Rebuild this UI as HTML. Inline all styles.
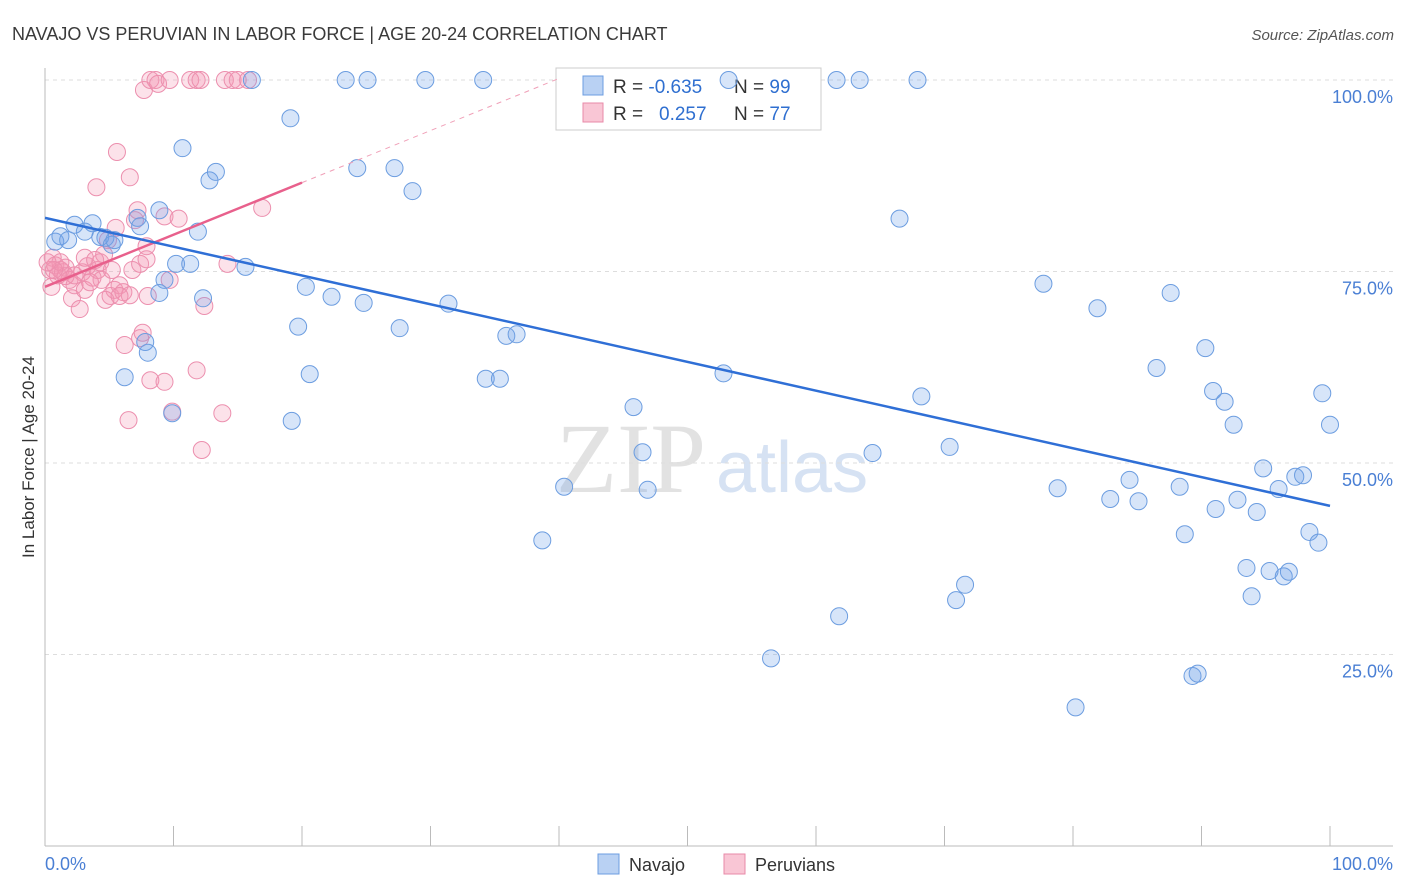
<!DOCTYPE html>
<html><head><meta charset="utf-8"><style>
body{margin:0;background:#fff;font-family:"Liberation Sans",sans-serif;}
svg{display:block}
</style></head><body>
<svg id="chart" width="1406" height="892">
<text x="12" y="40" font-size="18" fill="#3a3a3a">NAVAJO VS PERUVIAN IN LABOR FORCE | AGE 20-24 CORRELATION CHART</text>
<text x="1394" y="40" font-size="15" fill="#555" text-anchor="end" font-style="italic">Source: ZipAtlas.com</text>
<text transform="translate(34,457) rotate(-90)" font-size="17" fill="#333" text-anchor="middle">In Labor Force | Age 20-24</text>
<g>
<text x="556" y="492" font-size="100" font-family="Liberation Serif,serif" fill="#e2e2e2">ZIP</text>
<text x="716" y="492" font-size="72" fill="#d6e2f3">atlas</text>
</g>
<g id="grid"></g>
<g id="axes"></g>
<g>
<rect x="556" y="68" width="265" height="62" fill="#fff" stroke="#ccc"/>
<rect x="583" y="76" width="20" height="19" fill="#b9d1f3" stroke="#6c9de0"/>
<rect x="583" y="103" width="20" height="19" fill="#f9c6d5" stroke="#e88aa8"/>
<text x="613" y="93" font-size="19" fill="#333">R = <tspan fill="#2f6fd0">-0.635</tspan></text>
<text x="734" y="93" font-size="19" fill="#333">N = <tspan fill="#2f6fd0">99</tspan></text>
<text x="613" y="120" font-size="19" fill="#333">R = <tspan fill="#2f6fd0" x="659">0.257</tspan></text>
<text x="734" y="120" font-size="19" fill="#333">N = <tspan fill="#2f6fd0">77</tspan></text>
</g>
<g id="marks"></g>
<g>
<rect x="598" y="854" width="21" height="20" fill="#b9d1f3" stroke="#6c9de0"/>
<text x="629" y="871" font-size="18" fill="#333">Navajo</text>
<rect x="724" y="854" width="21" height="20" fill="#f9c6d5" stroke="#e88aa8"/>
<text x="755" y="871" font-size="18" fill="#333">Peruvians</text>
</g>
</svg>
<script>
const navajoX=[0.8,1.2,1.8,2.3,3.7,3.1,4.3,4.7,5.2,5.4,7.2,7.4,8.9,9.3,8.9,7.8,8.0,6.2,9.9,10.7,11.9,10.2,11.3,12.3,12.8,13.3,15.6,16.1,19.1,20.3,19.7,20.6,19.2,22.3,23.4,25.1,24.3,24.8,27.2,28.6,27.6,29.6,31.4,34.1,35.9,36.7,34.3,35.4,38.7,40.4,45.8,46.5,46.9,52.8,53.2,56.5,61.6,63.4,61.8,64.4,67.9,66.5,68.2,70.4,70.9,71.6,77.7,78.8,80.2,81.9,82.9,84.4,85.1,86.5,87.6,88.3,88.7,89.3,89.7,90.3,90.9,91.8,92.5,91.1,92.8,93.5,93.9,94.3,94.8,95.3,96.0,96.4,96.8,97.3,97.9,98.4,99.1,99.4,100];
const navajoY=[78.9,79.6,79.1,81.1,81.3,80.2,79.5,79.4,78.5,79.1,82.0,80.9,83.0,73.9,72.2,65.8,64.4,61.2,56.5,91.1,80.2,76.0,76.0,71.5,86.9,88.0,75.6,100,95.0,73.0,67.8,61.6,55.5,71.7,100,100,88.5,70.9,88.5,85.5,67.6,100,70.8,100,66.6,66.8,61.0,61.0,39.9,46.9,57.3,51.4,46.5,61.7,100,24.5,100,100,30.0,51.3,100,81.9,58.7,52.1,32.1,34.1,73.4,46.7,18.1,70.2,45.3,47.8,45.0,62.4,72.2,46.9,40.7,22.2,22.5,65.0,59.4,58.0,55.0,44.0,45.2,36.3,32.6,43.6,49.3,35.9,46.6,35.2,35.8,48.2,48.4,41.0,39.6,59.1,55.0];
const peruX=[0.6,0.4,0.8,1.0,0.5,1.2,1.4,1.6,1.9,2.1,2.3,2.7,2.9,3.1,3.3,3.7,4.0,4.1,4.3,4.4,4.6,4.9,5.1,5.4,5.6,5.5,5.8,6.1,6.2,6.5,6.6,6.6,6.8,7.0,7.2,7.4,7.4,7.6,7.9,7.9,7.7,8.2,8.6,8.8,8.2,8.0,9.3,9.7,9.3,9.9,9.7,10.4,11.3,11.8,12.1,11.8,12.2,12.4,13.8,14.0,14.2,14.6,15.0,15.8,16.9,3.1,3.9,4.7,5.2,5.8,1.2,1.6,3.5,2.3,0.7,0.2];
const peruY=[76.8,75.2,75.8,74.5,73.0,75.2,74.9,75.5,73.9,71.5,73.2,70.1,74.9,72.6,75.7,74.2,86.0,75.2,76.2,73.9,77.2,79.1,71.8,72.6,90.6,80.7,73.2,72.3,65.4,55.6,87.3,71.9,75.2,81.7,83.0,76.0,66.3,67.0,76.6,78.3,98.7,100,100,99.5,60.8,71.8,60.6,100,82.2,56.7,73.9,81.9,100,100,100,62.1,51.7,70.5,56.5,100,76.0,100,100,100,83.3,76.8,76.5,71.3,75.2,71.8,76.2,74.4,73.6,74.5,75.2,76.2];
const navajoTrend=[82.0,44.4];
const peruTrend=[73.0,86.6];
const yTicks=[25,50,75,100];
const yTickLabels=["25.0%","50.0%","75.0%","100.0%"];
const xTicks=[0,10,20,30,40,50,60,70,80,90,100];

const X0=45,X1=1330,Y0=846,Y100=80;
const sx=v=>X0+(X1-X0)*v/100;
const sy=v=>Y0-(Y0-Y100)*v/100;
const NS="http://www.w3.org/2000/svg";
function mk(tag,attrs,parent){const e=document.createElementNS(NS,tag);for(const k in attrs)e.setAttribute(k,attrs[k]);parent.appendChild(e);return e;}
const grid=document.getElementById('grid'),axes=document.getElementById('axes'),marks=document.getElementById('marks');

yTicks.forEach((t,i)=>{
  const l=mk('line',{x1:X0,x2:1393,y1:sy(t),y2:sy(t),stroke:'#ddd','stroke-dasharray':'4,4'},grid);
  
  
  const tx=mk('text',{x:1393,y:sy(t)+23,'font-size':18,fill:'#4a7fd4','text-anchor':'end'},axes);
  tx.textContent=yTickLabels[i];
  
  
});
const ya=mk('line',{x1:X0,x2:X0,y1:68,y2:Y0,stroke:'#bbb'},axes);


const xa=mk('line',{x1:X0,x2:1393,y1:Y0,y2:Y0,stroke:'#bbb'},axes);


xTicks.forEach(t=>{
  const l=mk('line',{x1:sx(t),x2:sx(t),y1:826,y2:Y0,stroke:'#bbb'},axes);
  
  
});
const xl0=mk('text',{x:45,y:870,'font-size':18,fill:'#4a7fd4'},axes);xl0.textContent='0.0%';


const xl1=mk('text',{x:1393,y:870,'font-size':18,fill:'#4a7fd4','text-anchor':'end'},axes);xl1.textContent='100.0%';



peruX.forEach((x,i)=>{
  const c=mk('circle',{cx:sx(x),cy:sy(peruY[i]),r:8.5,fill:'rgba(243,150,180,0.28)',stroke:'#ec8fae','stroke-width':1},marks);
  
  
});
navajoX.forEach((x,i)=>{
  const c=mk('circle',{cx:sx(x),cy:sy(navajoY[i]),r:8.5,fill:'rgba(110,160,235,0.28)',stroke:'#6c9de0','stroke-width':1},marks);
  
  
});
const slope=(peruTrend[1]-peruTrend[0])/20;
const pd=mk('line',{x1:sx(20),y1:sy(peruTrend[1]),x2:sx(40),y2:sy(peruTrend[0]+slope*40),stroke:'#f0a0b8','stroke-dasharray':'5,5','stroke-width':1},marks);


const pt=mk('line',{x1:sx(0),y1:sy(peruTrend[0]),x2:sx(20),y2:sy(peruTrend[1]),stroke:'#e8608c','stroke-width':2.5},marks);


const nt=mk('line',{x1:sx(0),y1:sy(navajoTrend[0]),x2:sx(100),y2:sy(navajoTrend[1]),stroke:'#2f6fd6','stroke-width':2.5},marks);


</script>
</body></html>
